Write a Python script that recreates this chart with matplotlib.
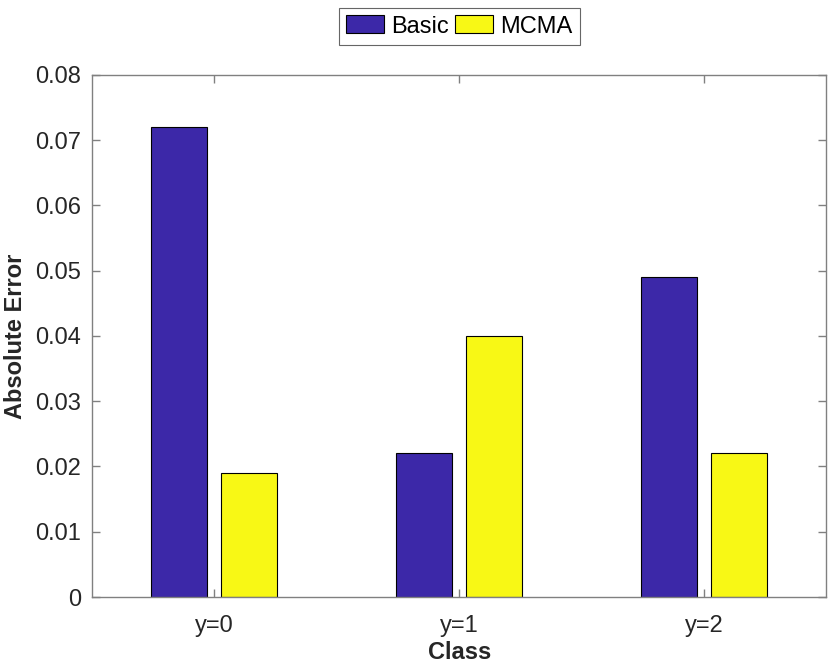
import matplotlib
matplotlib.use("Agg")
import matplotlib.pyplot as plt
import numpy as np

plt.rcParams['font.family'] = ['Liberation Sans', 'DejaVu Sans']

classes = ["y=0", "y=1", "y=2"]
basic_err = [0.072, 0.022, 0.049]
mcma_err = [0.019, 0.040, 0.022]

basic_color = "#3C28A8"
mcma_color = "#F8F815"
axis_gray = "#808080"
text_gray = "#262626"

fig = plt.figure(figsize=(8.31, 6.66), dpi=100)
ax = fig.add_axes([0.1107, 0.1036, 0.8837, 0.7838])

x = np.arange(1, len(classes) + 1)
width = 0.229
offset = 0.143
ax.bar(x - offset, basic_err, width, color=basic_color, edgecolor="black", linewidth=0.8, label="Basic")
ax.bar(x + offset, mcma_err, width, color=mcma_color, edgecolor="black", linewidth=0.8, label="MCMA")

ax.set_xlim(0.5, 3.5)
ax.set_ylim(0, 0.08)
ax.set_xticks(x)
ax.set_xticklabels(classes)
ax.set_yticks(np.arange(0, 0.081, 0.01))
ax.set_yticklabels(["0"] + ["%.2f" % v for v in np.arange(0.01, 0.081, 0.01)])

for s in ax.spines.values():
    s.set_color(axis_gray)
    s.set_linewidth(1.0)
ax.tick_params(direction="in", length=6, width=1.0, color=axis_gray, labelcolor=text_gray,
               labelsize=17, top=True, right=True, pad=8)
ax.tick_params(axis="x", pad=13)

ax.set_ylabel("Absolute Error", fontsize=17, fontweight="bold", color=text_gray, labelpad=6)
ax.set_xlabel("Class", fontsize=17, fontweight="bold", color=text_gray, labelpad=3)

leg = ax.legend(loc="lower center", bbox_to_anchor=(0.5, 1.058), ncol=2, fontsize=17,
                frameon=True, fancybox=False, edgecolor="#404040", handlelength=1.6,
                handleheight=0.8, handletextpad=0.3, columnspacing=0.3, borderpad=0.3,
                borderaxespad=0)
leg.get_frame().set_linewidth(0.8)

fig.savefig("out.png", dpi=100)
